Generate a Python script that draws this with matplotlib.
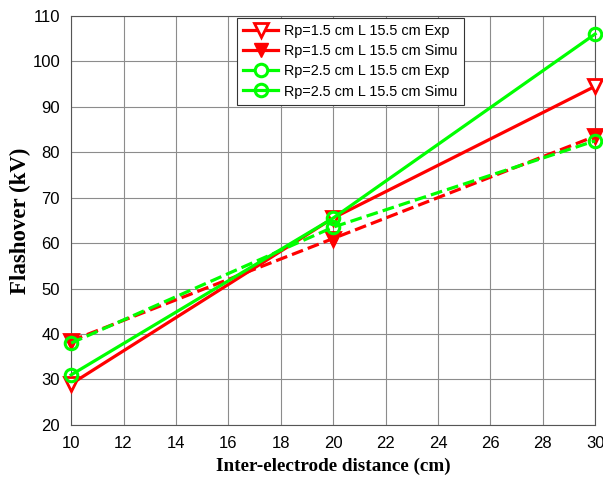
import matplotlib.pyplot as plt
from matplotlib.lines import Line2D

# Inter-electrode distance (cm) and flashover voltage (kV)
distance = [10, 20, 30]
rp15_exp = [38.5, 61, 83.5]
rp15_simu = [29, 65.5, 94.5]
rp25_exp = [38, 63.5, 82.5]
rp25_simu = [31, 65.5, 106]

labels = ['Rp=1.5 cm L 15.5 cm Exp', 'Rp=1.5 cm L 15.5 cm Simu',
          'Rp=2.5 cm L 15.5 cm Exp', 'Rp=2.5 cm L 15.5 cm Simu']

red = '#ff0000'
green = '#00ff00'

fig = plt.figure(figsize=(6.03, 4.79), dpi=100)
ax = fig.add_axes([0.118, 0.113, 0.869, 0.854])

ax.plot(distance, rp15_exp, '--', color=red, lw=2.3, marker='v', ms=10,
        mfc=red, mec=red, mew=2, clip_on=False, zorder=3)
ax.plot(distance, rp15_simu, '-', color=red, lw=2.3, marker='v', ms=10,
        mfc='white', mec=red, mew=2, clip_on=False, zorder=3)
ax.plot(distance, rp25_exp, '--', color=green, lw=2.3, marker='o', ms=9,
        mfc='none', mec=green, mew=2.2, clip_on=False, zorder=3)
ax.plot(distance, rp25_simu, '-', color=green, lw=2.3, marker='o', ms=9,
        mfc='none', mec=green, mew=2.2, clip_on=False, zorder=3)

ax.set_xlim(10, 30)
ax.set_ylim(20, 110)
ax.set_xticks(range(10, 31, 2))
ax.set_yticks(range(20, 111, 10))
ax.tick_params(labelsize=12, length=0)
ax.tick_params(axis='x', pad=8)
ax.tick_params(axis='y', pad=8)
for lab in ax.get_xticklabels() + ax.get_yticklabels():
    lab.set_family('Liberation Sans')
ax.grid(True, color='#8c8c8c', lw=0.8)
for s in ax.spines.values():
    s.set_color('#555555')
    s.set_linewidth(0.8)

ax.set_xlabel('Inter-electrode distance (cm)', family='Liberation Serif',
              fontweight='bold', fontsize=13.8, labelpad=5)
ax.set_ylabel('Flashover (kV)', family='Liberation Serif',
              fontweight='bold', fontsize=16.5, labelpad=1)

# legend entries as they appear in the key
handles = [
    Line2D([], [], color=red, lw=2.3, marker='v', ms=10, mfc='white', mec=red, mew=2),
    Line2D([], [], color=red, lw=2.3, marker='v', ms=10, mfc=red, mec=red),
    Line2D([], [], color=green, lw=2.3, marker='o', ms=9, mfc='white', mec=green, mew=2.2),
    Line2D([], [], color=green, lw=2.3, marker='o', ms=9, mfc='none', mec=green, mew=2.2),
]
leg = ax.legend(handles, labels, loc='upper left', bbox_to_anchor=(0.316, 0.995),
                prop={'family': 'Liberation Sans', 'size': 10.4}, fancybox=False,
                framealpha=1, edgecolor='#333333', handlelength=2.4,
                labelspacing=0.42, borderpad=0.45, handletextpad=0.4,
                borderaxespad=0)
leg.get_frame().set_linewidth(0.8)

fig.savefig('out.png', dpi=100)
